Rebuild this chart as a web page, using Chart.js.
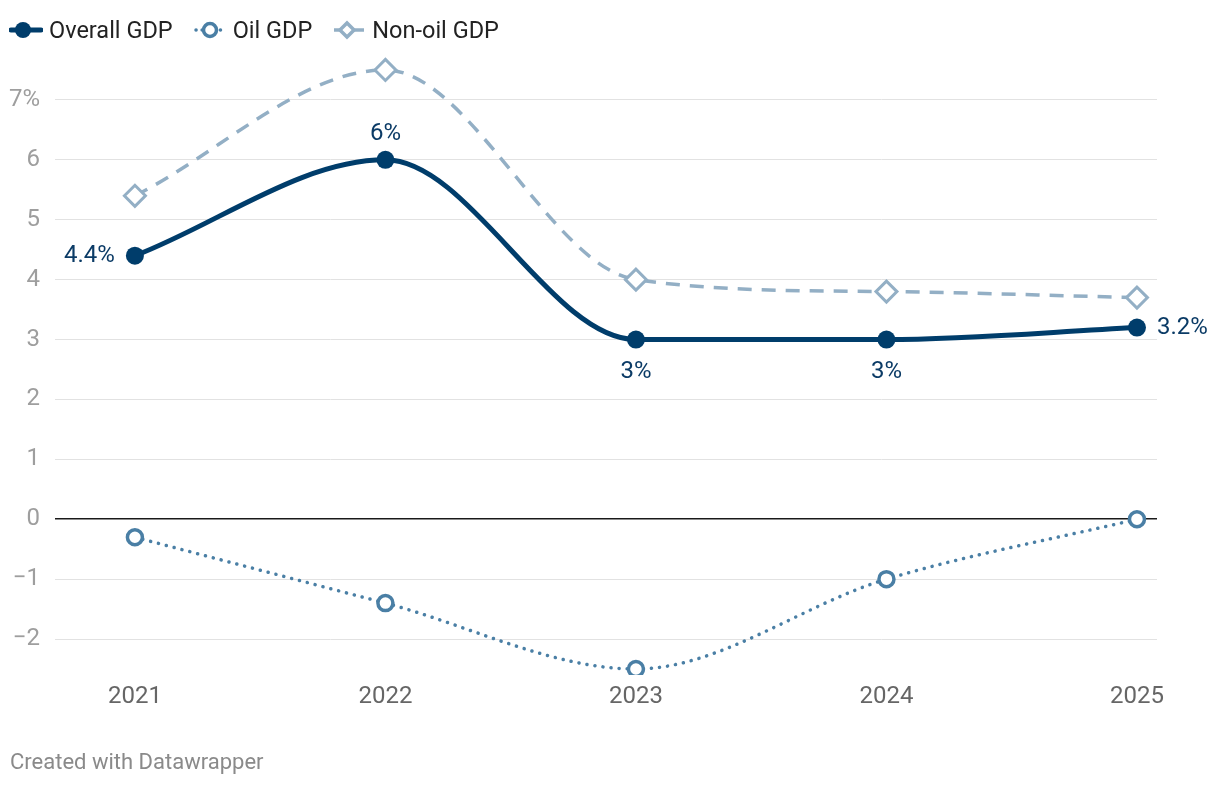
<!DOCTYPE html>
<html>
<head>
<meta charset="utf-8">
<script src="https://cdn.jsdelivr.net/npm/chart.js@4"></script>
<style>
html,body{margin:0;padding:0;background:#fff;}
body{width:1220px;height:786px;position:relative;overflow:hidden;font-family:Roboto,"Noto Sans",sans-serif;}
#wrap{position:absolute;left:0;top:0;width:1220px;height:786px;}
#legend{position:absolute;left:9px;top:16px;display:flex;align-items:center;font-size:23.5px;color:#222;}
.item{display:flex;align-items:center;margin-right:20px;}
.item svg{margin-right:6px;}
#footer{position:absolute;left:10px;top:749px;font-size:22px;color:#8a8a8a;}
</style>
</head>
<body>
<div id="wrap"><canvas id="c" width="1220" height="786"></canvas></div>
<div id="legend">
  <div class="item"><svg width="34" height="28"><line x1="2" y1="14" x2="32" y2="14" stroke="#003d6b" stroke-width="5" stroke-linecap="round"/><circle cx="14" cy="14" r="8" fill="#003d6b"/></svg><span>Overall GDP</span></div>
  <div class="item"><svg width="34" height="28"><line x1="3" y1="14" x2="33" y2="14" stroke="#4a7fa5" stroke-width="3.5" stroke-linecap="round" stroke-dasharray="0.1 6"/><circle cx="17" cy="14" r="6.5" fill="#fff" stroke="#4a7fa5" stroke-width="3.5"/></svg><span>Oil GDP</span></div>
  <div class="item"><svg width="34" height="28"><line x1="2" y1="14" x2="32" y2="14" stroke="#93afc5" stroke-width="3.5"/><rect x="10" y="9" width="10" height="10" transform="rotate(45 15 14)" fill="#fff" stroke="#93afc5" stroke-width="3.5"/></svg><span>Non-oil GDP</span></div>
</div>
<div id="footer">Created with Datawrapper</div>
<script>
const years = [2021, 2022, 2023, 2024, 2025];
const overallGDP = [4.4, 6, 3, 3, 3.2];
const oilGDP = [-0.3, -1.4, -2.5, -1.0, 0];
const nonOilGDP = [5.4, 7.5, 4.0, 3.8, 3.7];
const yTickValues = [-2, -1, 0, 1, 2, 3, 4, 5, 6, 7];
const overallLabels = ["4.4%", "6%", "3%", "3%", "3.2%"];
const labelPlacement = ["left", "top", "bottom", "bottom", "right"];

const toPts = arr => years.map((y, i) => ({x: y, y: arr[i]}));

const labelPlugin = {
  id: 'pointLabels',
  afterDatasetsDraw(chart) {
    const ctx = chart.ctx;
    const meta = chart.getDatasetMeta(0);
    ctx.save();
    ctx.font = '24px Roboto, "Noto Sans", sans-serif';
    ctx.fillStyle = '#0b3b66';
    meta.data.forEach((pt, i) => {
      const pos = labelPlacement[i];
      let x = pt.x, y = pt.y;
      if (pos === 'left') { ctx.textAlign = 'right'; ctx.textBaseline = 'middle'; x -= 20; }
      else if (pos === 'right') { ctx.textAlign = 'left'; ctx.textBaseline = 'middle'; x += 20; }
      else if (pos === 'top') { ctx.textAlign = 'center'; ctx.textBaseline = 'bottom'; y -= 14; }
      else { ctx.textAlign = 'center'; ctx.textBaseline = 'top'; y += 20; }
      ctx.fillText(overallLabels[i], x, y);
    });
    ctx.restore();
  }
};

new Chart(document.getElementById('c'), {
  type: 'line',
  data: {
    datasets: [
      {
        label: 'Overall GDP', data: toPts(overallGDP),
        borderColor: '#003d6b', backgroundColor: '#003d6b', borderWidth: 5,
        pointRadius: 9, pointHoverRadius: 9, pointBackgroundColor: '#003d6b', pointBorderWidth: 0,
        cubicInterpolationMode: 'monotone', order: 0
      },
      {
        label: 'Oil GDP', data: toPts(oilGDP),
        borderColor: '#4a7fa5', borderWidth: 3.5, borderDash: [0.1, 8], borderCapStyle: 'round',
        pointRadius: 7.5, pointHoverRadius: 7.5, pointBackgroundColor: '#fff', pointBorderColor: '#4a7fa5', pointBorderWidth: 3.5,
        cubicInterpolationMode: 'monotone', order: 1
      },
      {
        label: 'Non-oil GDP', data: toPts(nonOilGDP),
        borderColor: '#93afc5', borderWidth: 3.5, borderDash: [14, 10],
        pointStyle: 'rectRot', pointRadius: 10.5, pointHoverRadius: 10.5, pointBackgroundColor: '#fff', pointBorderColor: '#93afc5', pointBorderWidth: 3,
        cubicInterpolationMode: 'monotone', order: 2
      }
    ]
  },
  options: {
    responsive: false, animation: false, devicePixelRatio: 1,
    layout: { padding: { left: 0, right: 63, top: 52, bottom: 71 } },
    plugins: { legend: { display: false }, tooltip: { enabled: false } },
    elements: { line: { fill: false } },
    scales: {
      x: {
        type: 'linear', min: 2020.681, max: 2025.08,
        afterBuildTicks: s => { s.ticks = years.map(v => ({value: v})); },
        afterFit: s => { s.height = 40; },
        grid: { display: false, drawTicks: false },
        border: { display: false },
        ticks: { padding: 8, color: '#666', font: { family: 'Roboto', size: 24 }, callback: v => String(v), maxRotation: 0, autoSkip: false }
      },
      y: {
        min: -2.6, max: 7.8,
        afterBuildTicks: s => { s.ticks = yTickValues.map(v => ({value: v})); },
        afterFit: s => { s.width = 55; },
        grid: {
          drawTicks: false,
          color: c => c.tick && c.tick.value === 0 ? '#1a1a1a' : '#e2e2e2',
          lineWidth: c => c.tick && c.tick.value === 0 ? 1.6 : 1
        },
        border: { display: false },
        ticks: {
          padding: 15, color: '#9e9e9e', font: { family: 'Roboto', size: 24 },
          callback: v => v === 7 ? '7%' : (v < 0 ? '\u2212' + Math.abs(v) : String(v))
        }
      }
    }
  },
  plugins: [labelPlugin]
});
</script>
</body>
</html>
